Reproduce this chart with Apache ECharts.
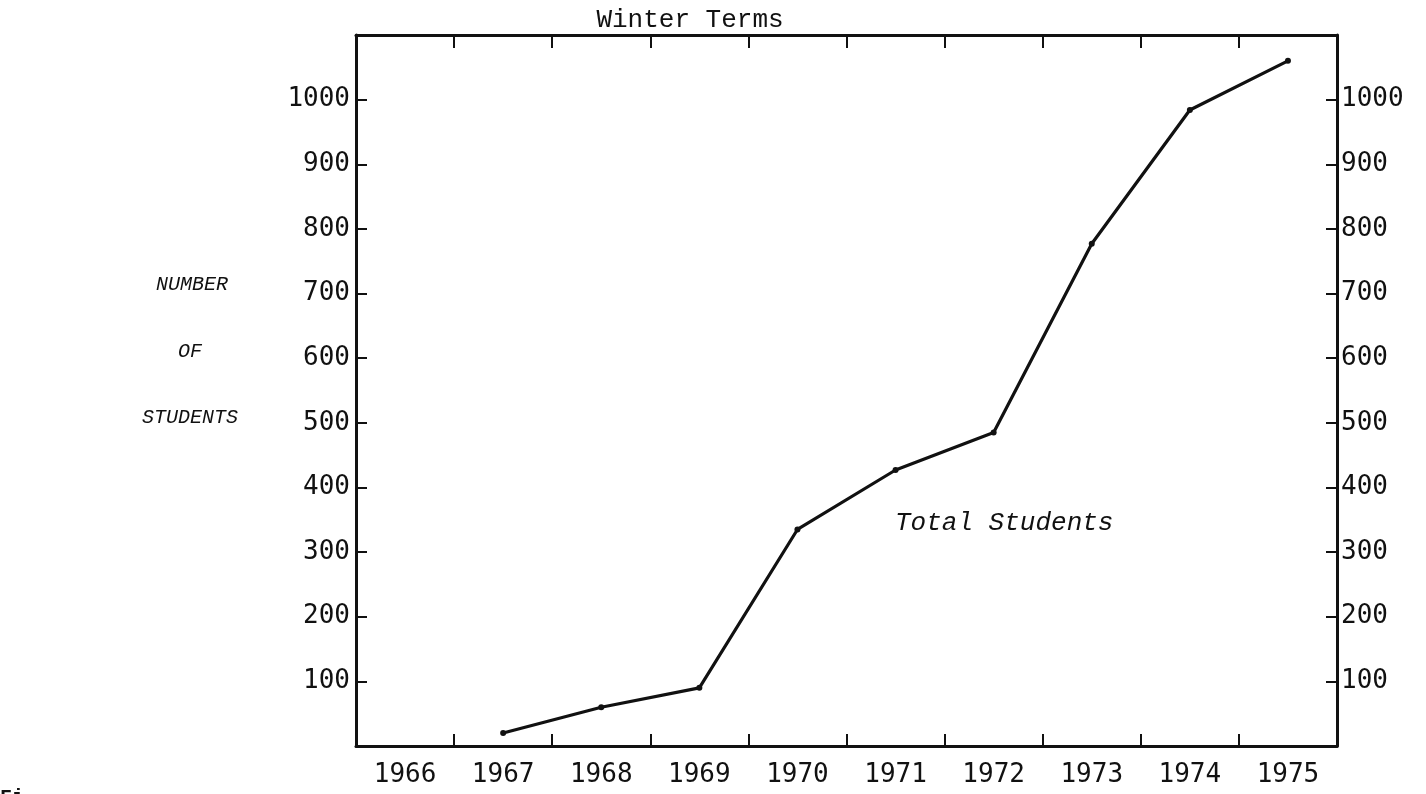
<!DOCTYPE html>
<html>
<head>
<meta charset="utf-8">
<script src="https://cdn.jsdelivr.net/npm/echarts@6/dist/echarts.min.js"></script>
<style>
html,body{margin:0;padding:0;background:#fff;}
#chart{width:1426px;height:794px;}
</style>
</head>
<body>
<div id="chart"></div>
<script>
// Data
const years = ['1966','1967','1968','1969','1970','1971','1972','1973','1974','1975'];
const totalStudents = [null, 20, 60, 90, 335, 427, 485, 777, 984, 1060];
const yTickValues = [100,200,300,400,500,600,700,800,900,1000];
const titleText = 'Winter Terms';
const seriesLabel = 'Total Students';
const yAxisTitle = ['NUMBER', 'OF', 'STUDENTS'];

const ink = '#111';
const mono = '"DejaVu Sans Mono", monospace';
const typer = '"Liberation Mono", "Courier New", monospace';

const yLabel = {
  show: true,
  fontFamily: mono,
  fontSize: 26,
  color: ink,
  margin: 6,
  padding: [0, 0, 12, 0],
  formatter: v => (yTickValues.indexOf(v) >= 0 ? String(v) : '')
};

const chart = echarts.init(document.getElementById('chart'), null, {renderer: 'canvas'});
chart.setOption({
  backgroundColor: '#fff',
  animation: false,
  grid: {left: 356, right: 89, top: 35, bottom: 48, containLabel: false},
  xAxis: [{
    type: 'category',
    data: years,
    position: 'bottom',
    boundaryGap: true,
    axisLine: {show: true, onZero: false, lineStyle: {color: ink, width: 3}},
    axisTick: {show: true, inside: true, length: 12, lineStyle: {color: ink, width: 2}},
    axisLabel: {fontFamily: mono, fontSize: 26, color: ink, margin: 16},
    splitLine: {show: false}
  }, {
    type: 'category',
    data: years,
    position: 'top',
    boundaryGap: true,
    axisLine: {show: true, onZero: false, lineStyle: {color: ink, width: 3}},
    axisTick: {show: true, inside: true, length: 13, lineStyle: {color: ink, width: 2}},
    axisLabel: {show: false},
    splitLine: {show: false}
  }],
  yAxis: [{
    type: 'value',
    min: 0, max: 1100, interval: 100,
    position: 'left',
    axisLine: {show: true, lineStyle: {color: ink, width: 3}},
    axisTick: {show: true, inside: true, length: 11, lineStyle: {color: ink, width: 2}},
    axisLabel: yLabel,
    splitLine: {show: false}
  }, {
    type: 'value',
    min: 0, max: 1100, interval: 100,
    position: 'right',
    axisLine: {show: true, lineStyle: {color: ink, width: 3}},
    axisTick: {show: true, inside: true, length: 11, lineStyle: {color: ink, width: 2}},
    axisLabel: Object.assign({}, yLabel, {margin: 4}),
    splitLine: {show: false}
  }],
  series: [{
    type: 'line',
    name: seriesLabel,
    data: totalStudents,
    xAxisIndex: 0,
    yAxisIndex: 0,
    connectNulls: false,
    symbol: 'circle',
    symbolSize: 6,
    itemStyle: {color: ink},
    lineStyle: {color: ink, width: 3.2}
  }],
  graphic: [
    {type: 'text', x: 690, y: 20, style: {text: titleText, font: '26px ' + typer, fill: ink, textAlign: 'center', textVerticalAlign: 'middle'}},
    {type: 'text', x: 895, y: 523, style: {text: seriesLabel, font: 'italic 26px ' + typer, fill: ink, textAlign: 'left', textVerticalAlign: 'middle'}},
    {type: 'text', x: 192, y: 285, style: {text: yAxisTitle[0], font: 'italic 20px ' + typer, fill: ink, textAlign: 'center', textVerticalAlign: 'middle'}},
    {type: 'text', x: 190, y: 352, style: {text: yAxisTitle[1], font: 'italic 20px ' + typer, fill: ink, textAlign: 'center', textVerticalAlign: 'middle'}},
    {type: 'text', x: 190, y: 418, style: {text: yAxisTitle[2], font: 'italic 20px ' + typer, fill: ink, textAlign: 'center', textVerticalAlign: 'middle'}},
    {type: 'text', x: 0, y: 788, style: {text: 'Fi', font: 'bold 20px ' + typer, fill: ink, textAlign: 'left', textVerticalAlign: 'top'}}
  ]
});
</script>
</body>
</html>
